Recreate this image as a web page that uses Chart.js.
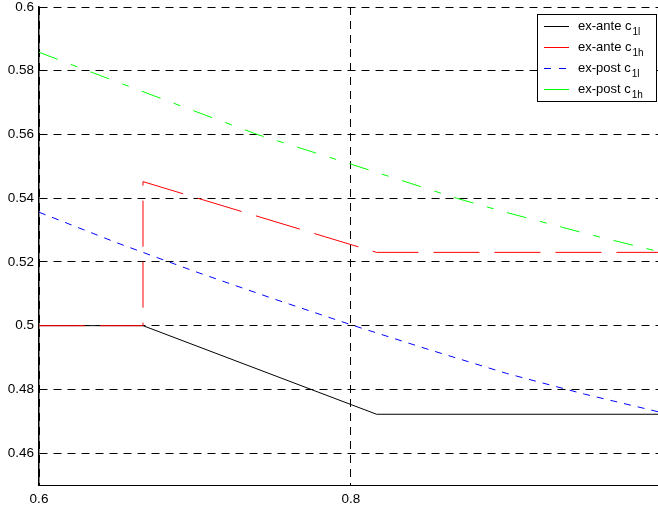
<!DOCTYPE html>
<html>
<head>
<meta charset="utf-8">
<script src="https://cdn.jsdelivr.net/npm/chart.js@4.4.0/dist/chart.umd.min.js"></script>
<style>
    body { margin: 0; background: #fff; }
</style>
</head>
<body>
<canvas id="chart_canvas" width="658" height="506"></canvas>
<script>
// values
const xTicks = [0.6, 0.8];
const yTicks = [0.46, 0.48, 0.5, 0.52, 0.54, 0.56, 0.58, 0.6];

const exAnteLowX = [0.6, 0.6667, 0.8165, 0.997];
const exAnteLowY = [0.5, 0.5, 0.4722, 0.4722];

const exAnteHighX = [0.6, 0.6667, 0.6667, 0.8165, 0.997];
const exAnteHighY = [0.5, 0.5, 0.5452, 0.523, 0.523];

const exPostLowX = [0.6, 0.65, 0.7, 0.75, 0.8, 0.85, 0.9, 0.95, 0.997];
const exPostLowY = [0.5356, 0.526, 0.517, 0.5085, 0.5003, 0.4925, 0.485, 0.4785, 0.473];

const exPostHighX = [0.6, 0.65, 0.7, 0.74, 0.8, 0.8678, 0.9, 0.95, 0.997];
const exPostHighY = [0.5858, 0.5765, 0.5673, 0.56, 0.5507, 0.54, 0.5355, 0.529, 0.5233];

const legendRows = [
    { text: 'ex-ante c', sub: '1l', color: '#000000', dash: [] },
    { text: 'ex-ante c', sub: '1h', color: '#ff0000', dash: [] },
    { text: 'ex-post c', sub: '1l', color: '#0000ff', dash: [7, 8] },
    { text: 'ex-post c', sub: '1h', color: '#00ff00', dash: [] }
];

function toPoints(xs, ys) {
    return xs.map((x, i) => ({ x: x, y: ys[i] }));
}

const fontFamily = '"Liberation Sans", Arial, Helvetica, sans-serif';

const legendPlugin = {
    id: 'subLegend',
    afterDraw(chart) {
        const ctx = chart.ctx;
        const area = chart.chartArea;
        const left = area.right - 121;
        const top = area.top + 7;
        ctx.save();
        ctx.fillStyle = '#ffffff';
        ctx.fillRect(left, top, 119, 87);
        ctx.strokeStyle = '#000000';
        ctx.lineWidth = 1;
        ctx.strokeRect(left + 0.5, top + 0.5, 119, 87);

        legendRows.forEach((row, i) => {
            const y = top + 12 + i * 21;
            ctx.beginPath();
            ctx.setLineDash(row.dash);
            ctx.strokeStyle = row.color;
            ctx.moveTo(left + 7, y + 0.5);
            ctx.lineTo(left + 32, y + 0.5);
            ctx.stroke();
            ctx.setLineDash([]);

            ctx.fillStyle = '#000000';
            ctx.textBaseline = 'alphabetic';
            ctx.textAlign = 'left';
            ctx.font = '13px ' + fontFamily;
            ctx.fillText(row.text, left + 41, y + 4);
            const w = ctx.measureText(row.text).width;
            ctx.font = '10px ' + fontFamily;
            ctx.fillText(row.sub, left + 41 + w + 1, y + 9);
        });
        ctx.restore();
    }
};

const ctx = document.getElementById('chart_canvas').getContext('2d');
new Chart(ctx, {
    type: 'scatter',
    data: {
        datasets: [{
            label: 'ex-ante c1l',
            data: toPoints(exAnteLowX, exAnteLowY),
            showLine: true,
            borderColor: '#000000',
            borderWidth: 1,
            pointRadius: 0,
            order: 1
        }, {
            label: 'ex-ante c1h',
            data: toPoints(exAnteHighX, exAnteHighY),
            showLine: true,
            borderColor: '#ff0000',
            borderWidth: 1,
            borderDash: [46, 15],
            pointRadius: 0,
            order: 0
        }, {
            label: 'ex-post c1l',
            data: toPoints(exPostLowX, exPostLowY),
            showLine: true,
            borderColor: '#0000ff',
            borderWidth: 1,
            borderDash: [7, 7],
            pointRadius: 0,
            order: 2
        }, {
            label: 'ex-post c1h',
            data: toPoints(exPostHighX, exPostHighY),
            showLine: true,
            borderColor: '#00ff00',
            borderWidth: 1,
            borderDash: [20, 14, 7, 14],
            pointRadius: 0,
            order: 3
        }]
    },
    options: {
        responsive: false,
        animation: false,
        layout: { padding: { top: 7, right: 0, left: 0, bottom: 0 } },
        plugins: {
            legend: { display: false },
            tooltip: { enabled: false }
        },
        scales: {
            x: {
                type: 'linear',
                min: 0.6,
                max: 0.997,
                afterBuildTicks: (scale) => {
                    scale.ticks = xTicks.map(v => ({ value: v }));
                },
                afterFit: (scale) => {
                    scale.height = 21;
                    scale.paddingLeft = 0;
                    scale.paddingRight = 0;
                },
                ticks: {
                    color: '#000000',
                    font: { family: fontFamily, size: 13.5 },
                    padding: 6,
                    maxRotation: 0,
                    callback: (v) => String(v)
                },
                grid: { color: '#000000', lineWidth: 1, drawTicks: false },
                border: { display: true, color: '#000000', width: 1, dash: [8, 6] }
            },
            y: {
                type: 'linear',
                min: 0.45,
                max: 0.6,
                afterBuildTicks: (scale) => {
                    scale.ticks = yTicks.map(v => ({ value: v }));
                },
                afterFit: (scale) => {
                    scale.width = 39;
                    scale.paddingTop = 0;
                    scale.paddingBottom = 0;
                },
                ticks: {
                    color: '#000000',
                    font: { family: fontFamily, size: 13.5 },
                    padding: 5,
                    callback: (v) => String(v)
                },
                grid: { color: '#000000', lineWidth: 1, drawTicks: false },
                border: { display: true, color: '#000000', width: 1.5, dash: [8, 6] }
            }
        }
    },
    plugins: [legendPlugin]
});
</script>
</body>
</html>
